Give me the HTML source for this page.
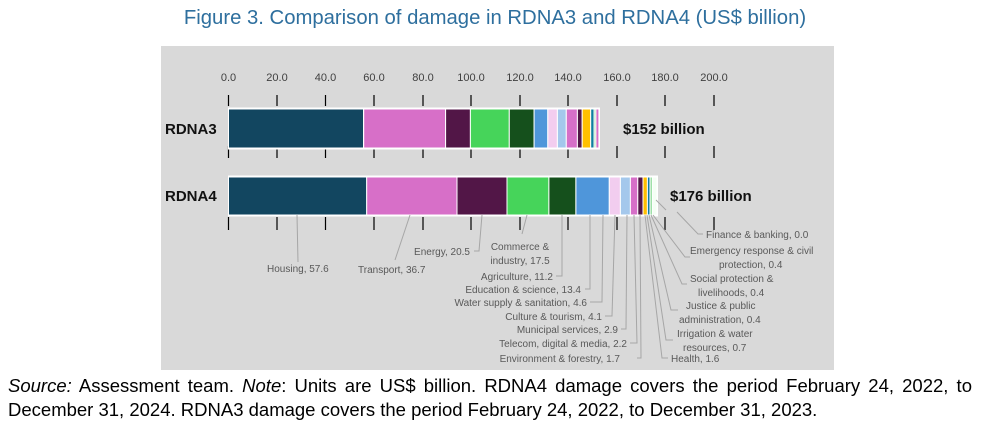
<!DOCTYPE html>
<html><head><meta charset="utf-8"><style>
body{margin:0;background:#fff;width:998px;height:437px;overflow:hidden;font-family:"Liberation Sans",sans-serif}
svg{position:absolute;left:0;top:0}
.t{font-size:10px;fill:#595959}
.ax{font-size:11px;fill:#404040}
.fn{position:absolute;left:8px;width:964px;font-size:18.5px;color:#000;white-space:nowrap;line-height:24px}
</style></head><body>
<svg width="998" height="437" viewBox="0 0 998 437">
<text x="495" y="24" text-anchor="middle" font-size="20.3" fill="#2e6f9e">Figure 3. Comparison of damage in RDNA3 and RDNA4 (US$ billion)</text>
<rect x="161" y="46" width="673" height="324" fill="#d9d9d9"/>
<g class="ax" text-anchor="middle">
<text x="228.5" y="81">0.0</text><text x="277" y="81">20.0</text><text x="325.5" y="81">40.0</text><text x="374" y="81">60.0</text><text x="423" y="81">80.0</text><text x="471" y="81">100.0</text><text x="520" y="81">120.0</text><text x="568" y="81">140.0</text><text x="617" y="81">160.0</text><text x="665" y="81">180.0</text><text x="714" y="81">200.0</text>
</g>
<g stroke="#000" stroke-width="1.2">
<path d="M228.5 95V106M277 95V106M325.5 95V106M374 95V106M423 95V106M471 95V106M520 95V106M568 95V106M617 95V106M665 95V106M714 95V106"/>
<path d="M228.5 146V158M277 146V158M325.5 146V158M374 146V158M423 146V158M471 146V158M520 146V158M568 146V158M617 146V158M665 146V158M714 146V158"/>
<path d="M228.5 217V230M277 217V230M325.5 217V230M374 217V230M423 217V230M471 217V230M520 217V230M568 217V230M617 217V230M665 217V230M714 217V230"/>
</g>
<g stroke="#fff" stroke-width="1">
<rect x="228.5" y="108" width="371" height="41" fill="#fff"/>
<rect x="228.5" y="109" width="135" height="39" fill="#124660"/>
<rect x="363.7" y="109" width="81.9" height="39" fill="#d76fc8"/>
<rect x="445.6" y="109" width="24.8" height="39" fill="#521647"/>
<rect x="470.4" y="109" width="38.9" height="39" fill="#46d45a"/>
<rect x="509.3" y="109" width="24.8" height="39" fill="#15501c"/>
<rect x="534.1" y="109" width="13.7" height="39" fill="#4f96da"/>
<rect x="547.8" y="109" width="9.6" height="39" fill="#f2cdef"/>
<rect x="557.4" y="109" width="8.9" height="39" fill="#a4c8ec"/>
<rect x="566.3" y="109" width="11.1" height="39" fill="#d66fc8"/>
<rect x="577.4" y="109" width="4.8" height="39" fill="#521647"/>
<rect x="582.2" y="109" width="8.5" height="39" fill="#ffc000"/>
<rect x="590.7" y="109" width="3.4" height="39" fill="#0f7ea0"/>
<rect x="594.1" y="109" width="1.8" height="39" fill="#9fe0a8"/>
<rect x="595.9" y="109" width="3" height="39" fill="#d66fc8"/>
<rect x="228.5" y="176" width="429" height="40" fill="#fff"/>
<rect x="228.5" y="177" width="138.2" height="38" fill="#124660"/>
<rect x="366.7" y="177" width="90.3" height="38" fill="#d76fc8"/>
<rect x="457" y="177" width="50" height="38" fill="#521647"/>
<rect x="507" y="177" width="41.9" height="38" fill="#46d45a"/>
<rect x="548.9" y="177" width="27" height="38" fill="#15501c"/>
<rect x="575.9" y="177" width="33.4" height="38" fill="#4f96da"/>
<rect x="609.3" y="177" width="11.1" height="38" fill="#f2cdef"/>
<rect x="620.4" y="177" width="10" height="38" fill="#a4c8ec"/>
<rect x="630.4" y="177" width="7.4" height="38" fill="#d66fc8"/>
<rect x="637.8" y="177" width="5.2" height="38" fill="#521647"/>
<rect x="643" y="177" width="4.4" height="38" fill="#ffc000"/>
<rect x="647.4" y="177" width="2.6" height="38" fill="#0f7ea0"/>
<rect x="650" y="177" width="2.6" height="38" fill="#9fe0a8"/>
<rect x="652.6" y="177" width="4.4" height="38" fill="#f4fff4"/>
</g>
<text x="165" y="134" font-size="15" font-weight="bold" fill="#111">RDNA3</text>
<text x="165" y="201" font-size="15" font-weight="bold" fill="#111">RDNA4</text>
<text x="623" y="134" font-size="15" font-weight="bold" fill="#111">$152 billion</text>
<text x="670" y="201" font-size="15" font-weight="bold" fill="#111">$176 billion</text>
<g stroke="#a6a6a6" stroke-width="1" fill="none">
<path d="M297 215L298 262"/><path d="M410 215L395 260"/>
<path d="M482 215L479 251H474"/><path d="M527 215L522 234"/>
<path d="M562 215V276H556"/><path d="M590 215V289H585"/>
<path d="M603 215L602 302H590"/><path d="M615 215L612 316H605"/>
<path d="M627 215L626 329H621"/><path d="M634 215L637 343H630"/>
<path d="M640 215L641 358H637"/><path d="M645 215L662 358H668"/>
<path d="M647 215L666 340H673"/><path d="M649 215L671 310H678"/>
<path d="M651 215L682 284H687"/><path d="M653 215L685 257H690"/>
<path d="M656 200L666 210M677 212L698 234H703"/>
</g>
<g class="t">
<text x="267" y="272">Housing, 57.6</text>
<text x="358" y="273">Transport, 36.7</text>
<text x="470" y="255" text-anchor="end">Energy, 20.5</text>
<text x="520" y="250" text-anchor="middle">Commerce &amp;</text>
<text x="520" y="264" text-anchor="middle">industry, 17.5</text>
<text x="553" y="280" text-anchor="end">Agriculture, 11.2</text>
<text x="581" y="293" text-anchor="end">Education &amp; science, 13.4</text>
<text x="587" y="306" text-anchor="end">Water supply &amp; sanitation, 4.6</text>
<text x="602" y="320" text-anchor="end">Culture &amp; tourism, 4.1</text>
<text x="618" y="333" text-anchor="end">Municipal services, 2.9</text>
<text x="627" y="347" text-anchor="end">Telecom, digital &amp; media, 2.2</text>
<text x="620" y="362" text-anchor="end">Environment &amp; forestry, 1.7</text>
<text x="671" y="362">Health, 1.6</text>
<text x="677" y="337">Irrigation &amp; water</text>
<text x="683" y="351">resources, 0.7</text>
<text x="686" y="309">Justice &amp; public</text>
<text x="679" y="323">administration, 0.4</text>
<text x="690" y="282">Social protection &amp;</text>
<text x="698" y="296">livelihoods, 0.4</text>
<text x="690" y="254">Emergency response &amp; civil</text>
<text x="719" y="268">protection, 0.4</text>
<text x="706" y="238">Finance &amp; banking, 0.0</text>
</g>
</svg>
<div class="fn" style="top:374px;text-align:justify;text-align-last:justify"><i>Source:</i> Assessment team. <i>Note</i>: Units are US$ billion. RDNA4 damage covers the period February 24, 2022, to</div>
<div class="fn" style="top:398px">December 31, 2024. RDNA3 damage covers the period February 24, 2022, to December 31, 2023.</div>
</body></html>
